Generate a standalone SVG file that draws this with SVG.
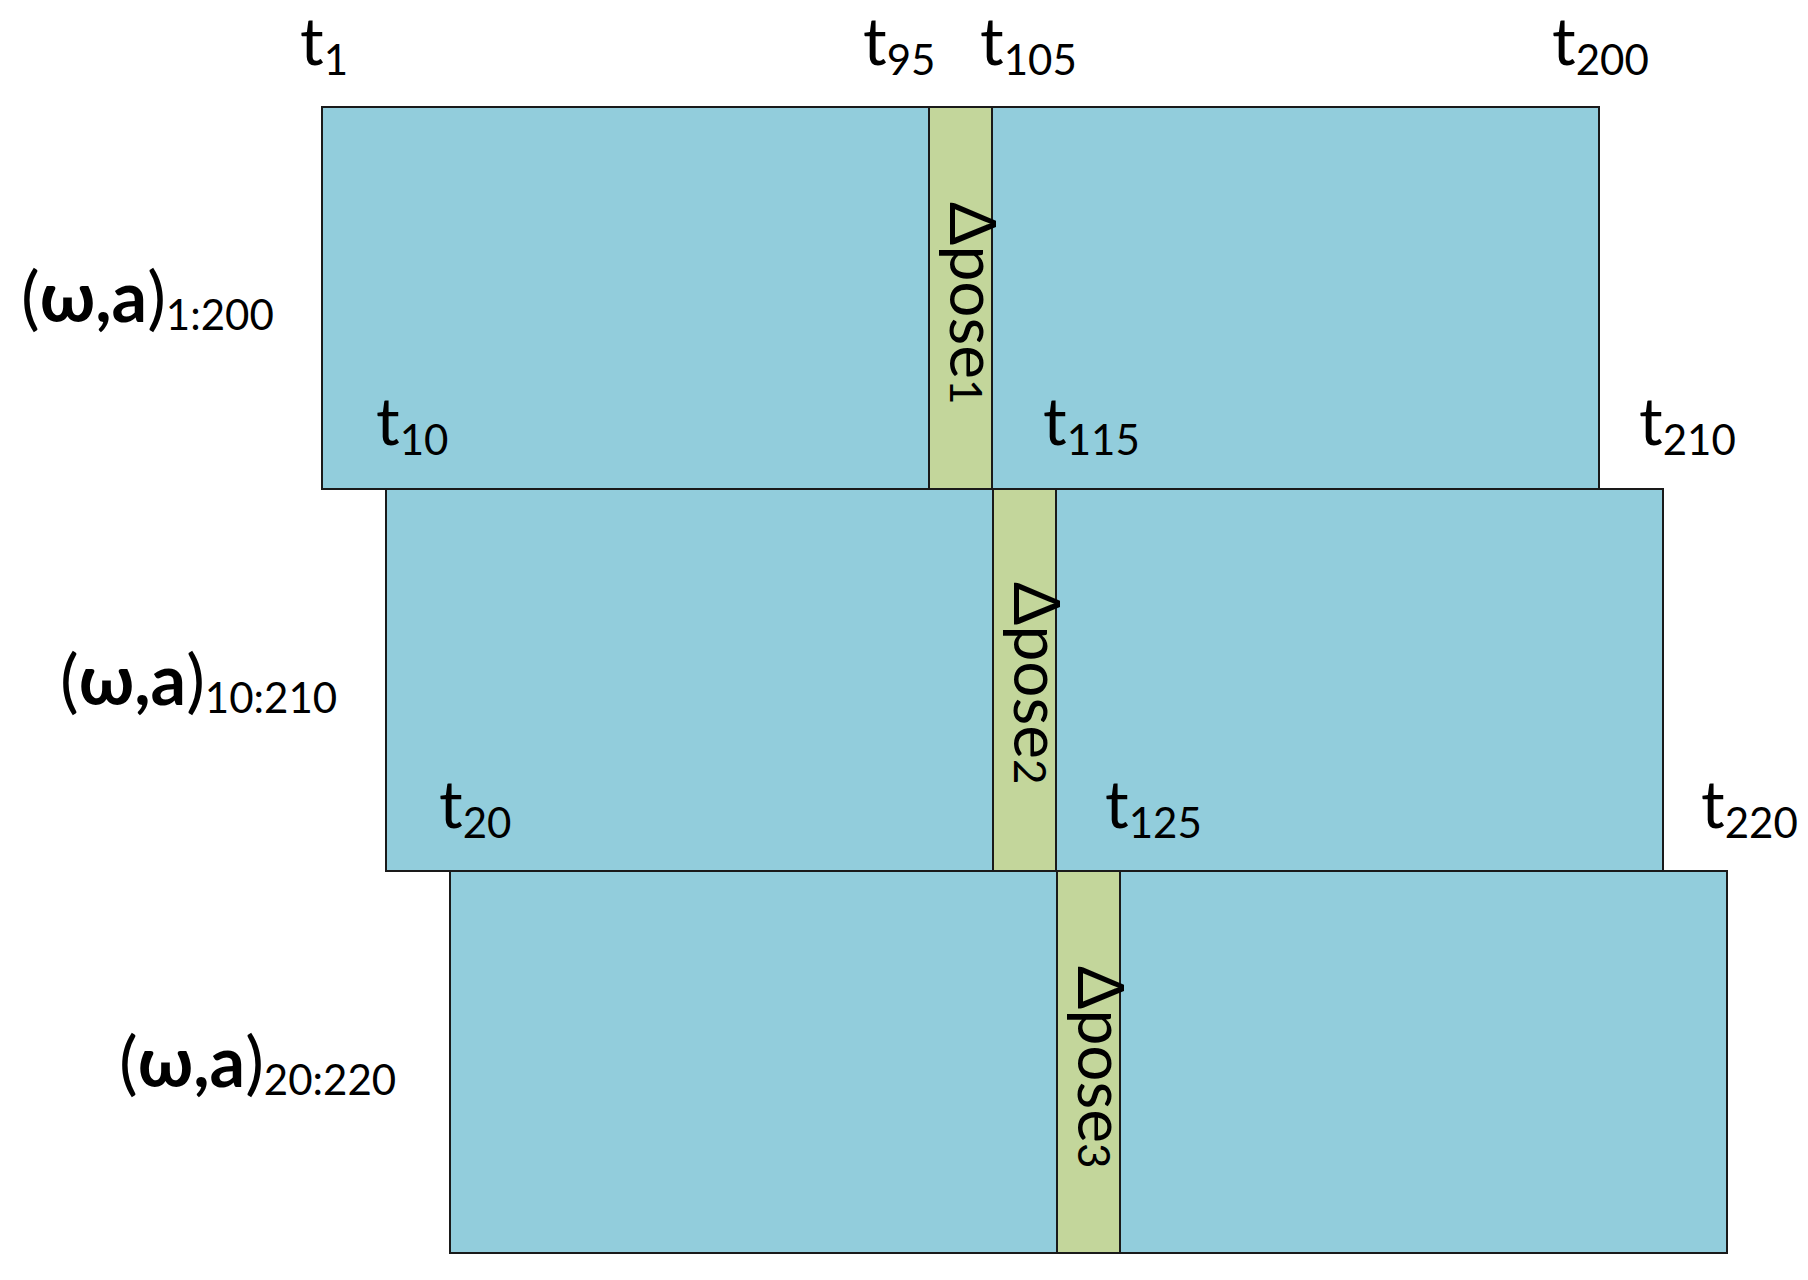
<svg xmlns="http://www.w3.org/2000/svg" width="1808" height="1280" viewBox="0 0 1808 1280">
<style>
.blk{fill:#92CDDC;stroke:#1a1a1a;stroke-width:2}
.band{fill:#C3D69B;stroke:#1a1a1a;stroke-width:2}
.lbl{font-family:Lato,"Liberation Sans",sans-serif;font-size:66px;fill:#000}
.sub{font-size:42px}
.imu{font-size:70px}
.isub{font-size:42px}
.b{font-weight:bold}
.rot{font-family:Lato,"Liberation Sans",sans-serif;font-size:64px;fill:#000}
</style>
<rect width="1808" height="1280" fill="#fff"/>
<g id="window1">
<rect class="blk" x="322" y="107" width="1277" height="382"/>
<rect class="band" x="929" y="107" width="63" height="382"/>
<text class="rot" transform="translate(950,202) rotate(90)">Δpose<tspan font-size="44">1</tspan></text>
</g>
<g id="window2">
<rect class="blk" x="386" y="489" width="1277" height="382"/>
<rect class="band" x="993" y="489" width="63" height="382"/>
<text class="rot" transform="translate(1014,582) rotate(90)">Δpose<tspan font-size="44">2</tspan></text>
</g>
<g id="window3">
<rect class="blk" x="450" y="871" width="1277" height="382"/>
<rect class="band" x="1057" y="871" width="63" height="382"/>
<text class="rot" transform="translate(1078,966) rotate(90)">Δpose<tspan font-size="44">3</tspan></text>
</g>
<g id="time-labels">
<text class="lbl" x="300" y="65">t<tspan class="sub" dy="10">1</tspan></text>
<text class="lbl" x="863" y="65">t<tspan class="sub" dy="10">95</tspan></text>
<text class="lbl" x="980" y="65">t<tspan class="sub" dy="10">105</tspan></text>
<text class="lbl" x="1552" y="65">t<tspan class="sub" dy="10">200</tspan></text>
<text class="lbl" x="376" y="445">t<tspan class="sub" dy="10">10</tspan></text>
<text class="lbl" x="1043" y="445">t<tspan class="sub" dy="10">115</tspan></text>
<text class="lbl" x="1639" y="445">t<tspan class="sub" dy="10">210</tspan></text>
<text class="lbl" x="439" y="828">t<tspan class="sub" dy="10">20</tspan></text>
<text class="lbl" x="1105" y="828">t<tspan class="sub" dy="10">125</tspan></text>
<text class="lbl" x="1701" y="828">t<tspan class="sub" dy="10">220</tspan></text>
</g>
<g id="imu-labels">
<text class="lbl imu" x="21" y="322">(<tspan class="b">ω,a</tspan>)<tspan class="isub" dy="8">1:200</tspan></text>
<text class="lbl imu" x="60" y="705">(<tspan class="b">ω,a</tspan>)<tspan class="isub" dy="8">10:210</tspan></text>
<text class="lbl imu" x="119" y="1087">(<tspan class="b">ω,a</tspan>)<tspan class="isub" dy="8">20:220</tspan></text>
</g>
</svg>
